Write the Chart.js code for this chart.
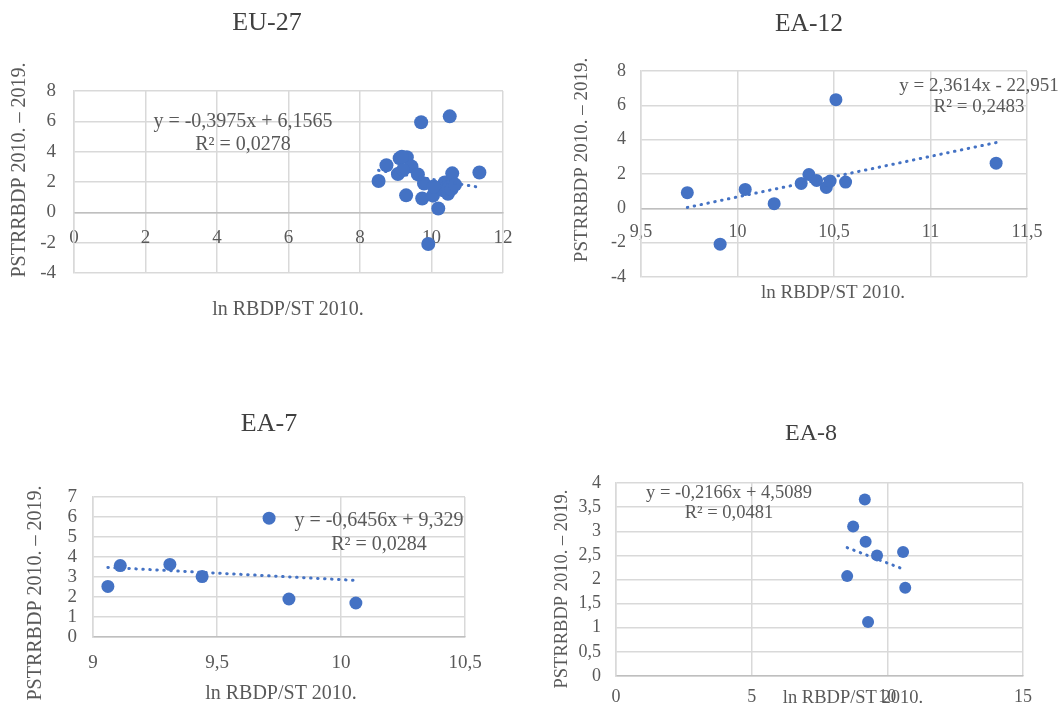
<!DOCTYPE html>
<html>
<head>
<meta charset="utf-8">
<script src="https://cdn.jsdelivr.net/npm/chart.js@4.4.1/dist/chart.umd.min.js"></script>
<style>
    html, body { margin: 0; padding: 0; background: #fff; }
    #page { position: relative; width: 1063px; height: 705px; overflow: hidden; }
    canvas { position: absolute; }
</style>
</head>
<body>
<div id="page">
    <canvas id="chartEU27" width="532" height="352" style="left:0;top:0"></canvas>
    <canvas id="chartEA12" width="531" height="352" style="left:532px;top:0"></canvas>
    <canvas id="chartEA7" width="532" height="353" style="left:0;top:352px"></canvas>
    <canvas id="chartEA8" width="531" height="353" style="left:532px;top:352px"></canvas>
</div>
<script>
// values (x = ln RBDP/ST 2010., y = PSTRRBDP 2010.-2019.)
const eu27X = [9.74, 9.91, 10.04, 10.19, 10.33, 10.37, 10.41, 10.46, 10.48, 10.51, 10.56, 11.34,
               9.06, 9.11, 9.31, 9.44, 9.71, 9.79, 10.06,
               8.52, 8.74, 9.17, 9.20, 9.29, 9.62, 10.58, 10.66];
const eu27Y = [0.91, -2.09, 1.10, 0.25, 1.45, 1.97, 1.62, 1.22, 1.59, 6.33, 1.53, 2.63,
               2.53, 3.57, 3.63, 3.02, 5.94, 1.90, 1.70,
               2.07, 3.10, 3.66, 2.78, 1.12, 2.50, 2.57, 1.83];
const eu27TrendX = [8.52, 11.34];
const eu27TrendY = [2.77, 1.65];

const ea12X = [9.74, 9.91, 10.04, 10.19, 10.33, 10.37, 10.41, 10.46, 10.48, 10.51, 10.56, 11.34];
const ea12Y = [0.91, -2.09, 1.10, 0.27, 1.45, 1.97, 1.62, 1.22, 1.59, 6.33, 1.53, 2.63];
const ea12TrendX = [9.74, 11.34];
const ea12TrendY = [0.05, 3.83];

const ea7X = [9.06, 9.11, 9.31, 9.44, 9.71, 9.79, 10.06];
const ea7Y = [2.53, 3.57, 3.63, 3.02, 5.94, 1.90, 1.70];
const ea7TrendX = [9.06, 10.06];
const ea7TrendY = [3.48, 2.83];

const ea8X = [8.52, 8.74, 9.17, 9.20, 9.29, 9.62, 10.58, 10.66];
const ea8Y = [2.07, 3.10, 3.66, 2.78, 1.12, 2.50, 2.57, 1.83];
const ea8TrendX = [8.52, 10.66];
const ea8TrendY = [2.66, 2.20];

const xTitle = 'ln RBDP/ST 2010.';
const yTitle = 'PSTRRBDP 2010. \u2013 2019.';

const FONT = '"Liberation Serif", "Times New Roman", serif';
const BLUE = '#4472C4';
const GRID = '#d9d9d9';
const TEXT = '#595959';

Chart.defaults.font.family = FONT;

// draws titles, axis titles and trendline labels
const textPlugin = {
    id: 'panelText',
    afterDraw(chart, args, opts) {
        const ctx = chart.ctx;
        opts.items.forEach(t => {
            ctx.save();
            ctx.font = t.size + 'px ' + FONT;
            ctx.fillStyle = t.color || TEXT;
            ctx.textAlign = 'center';
            ctx.textBaseline = 'middle';
            ctx.translate(t.x, t.y);
            if (t.rotate) ctx.rotate(-Math.PI / 2);
            ctx.fillText(t.text, 0, 0);
            ctx.restore();
        });
    }
};

const comma = v => String(v).replace('.', ',');

function makeChart(id, c) {
    const points = c.xs.map((x, i) => ({ x: x, y: c.ys[i] }));
    const trend = c.trendX.map((x, i) => ({ x: x, y: c.trendY[i] }));
    return new Chart(document.getElementById(id), {
        type: 'scatter',
        data: {
            datasets: [
                {
                    data: trend,
                    showLine: true,
                    pointRadius: 0,
                    borderColor: BLUE,
                    borderWidth: 3,
                    borderDash: [0.5, 6.5],
                    borderCapStyle: 'round'
                },
                {
                    data: points,
                    pointRadius: c.radius,
                    pointHoverRadius: c.radius,
                    backgroundColor: BLUE,
                    borderColor: BLUE,
                    borderWidth: 0
                }
            ]
        },
        options: {
            responsive: false,
            animation: false,
            layout: { padding: c.padding },
            plugins: {
                legend: { display: false },
                tooltip: { enabled: false },
                panelText: { items: c.texts }
            },
            scales: {
                x: {
                    type: 'linear',
                    position: { y: 0 },
                    min: c.xMin, max: c.xMax,
                    ticks: { stepSize: c.xStep, autoSkip: false, maxRotation: 0, callback: comma, padding: c.xPad, color: TEXT, font: { size: c.tick } },
                    grid: { color: GRID, lineWidth: 1.5, drawTicks: false },
                    border: { color: '#bfbfbf', width: 1.5 }
                },
                y: {
                    min: c.yMin, max: c.yMax,
                    ticks: { stepSize: c.yStep, autoSkip: false, callback: comma, padding: c.yPad, color: TEXT, font: { size: c.tick } },
                    grid: { color: GRID, lineWidth: 1.5, drawTicks: false },
                    border: { color: GRID, width: 1.5 },
                    afterFit: s => { s.width = 50; }
                }
            }
        },
        plugins: [textPlugin]
    });
}

makeChart('chartEU27', {
    xs: eu27X, ys: eu27Y, trendX: eu27TrendX, trendY: eu27TrendY, radius: 7,
    xMin: 0, xMax: 12, xStep: 2, yMin: -4, yMax: 8, yStep: 2,
    tick: 19, xPad: 14, yPad: 18,
    padding: { left: 24, right: 29, top: 91, bottom: 79 },
    texts: [
        { text: 'EU-27', x: 267, y: 23, size: 26, color: '#404040' },
        { text: 'y = -0,3975x + 6,1565', x: 243, y: 122, size: 20 },
        { text: 'R\u00b2 = 0,0278', x: 243, y: 145, size: 20 },
        { text: xTitle, x: 288, y: 310, size: 20 },
        { text: yTitle, x: 20, y: 170, size: 20, rotate: true }
    ]
});

makeChart('chartEA12', {
    xs: ea12X, ys: ea12Y, trendX: ea12TrendX, trendY: ea12TrendY, radius: 6.5,
    xMin: 9.5, xMax: 11.5, xStep: 0.5, yMin: -4, yMax: 8, yStep: 2,
    tick: 18, xPad: 13, yPad: 15,
    padding: { left: 59, right: 36, top: 71, bottom: 75 },
    texts: [
        { text: 'EA-12', x: 277, y: 24, size: 25.5, color: '#404040' },
        { text: 'y = 2,3614x - 22,951', x: 447, y: 86, size: 19 },
        { text: 'R\u00b2 = 0,2483', x: 447, y: 107, size: 19 },
        { text: xTitle, x: 301, y: 293, size: 19 },
        { text: yTitle, x: 50, y: 160, size: 19, rotate: true }
    ]
});

makeChart('chartEA7', {
    xs: ea7X, ys: ea7Y, trendX: ea7TrendX, trendY: ea7TrendY, radius: 6.5,
    xMin: 9, xMax: 10.5, xStep: 0.5, yMin: 0, yMax: 7, yStep: 1,
    tick: 19, xPad: 15, yPad: 16,
    padding: { left: 43, right: 67, top: 145, bottom: 68 },
    texts: [
        { text: 'EA-7', x: 269, y: 72, size: 26, color: '#404040' },
        { text: 'y = -0,6456x + 9,329', x: 379, y: 169, size: 20 },
        { text: 'R\u00b2 = 0,0284', x: 379, y: 193, size: 20 },
        { text: xTitle, x: 281, y: 342, size: 20 },
        { text: yTitle, x: 36, y: 241, size: 20, rotate: true }
    ]
});

makeChart('chartEA8', {
    xs: ea8X, ys: ea8Y, trendX: ea8TrendX, trendY: ea8TrendY, radius: 6,
    xMin: 0, xMax: 15, xStep: 5, yMin: 0, yMax: 4, yStep: 0.5,
    tick: 18, xPad: 10, yPad: 15,
    padding: { left: 34, right: 40, top: 131, bottom: 29 },
    texts: [
        { text: 'EA-8', x: 279, y: 82, size: 24, color: '#404040' },
        { text: 'y = -0,2166x + 4,5089', x: 197, y: 141, size: 18.5 },
        { text: 'R\u00b2 = 0,0481', x: 197, y: 161, size: 18.5 },
        { text: xTitle, x: 321, y: 346, size: 18.5 },
        { text: yTitle, x: 30, y: 237, size: 18.5, rotate: true }
    ]
});
</script>
</body>
</html>
